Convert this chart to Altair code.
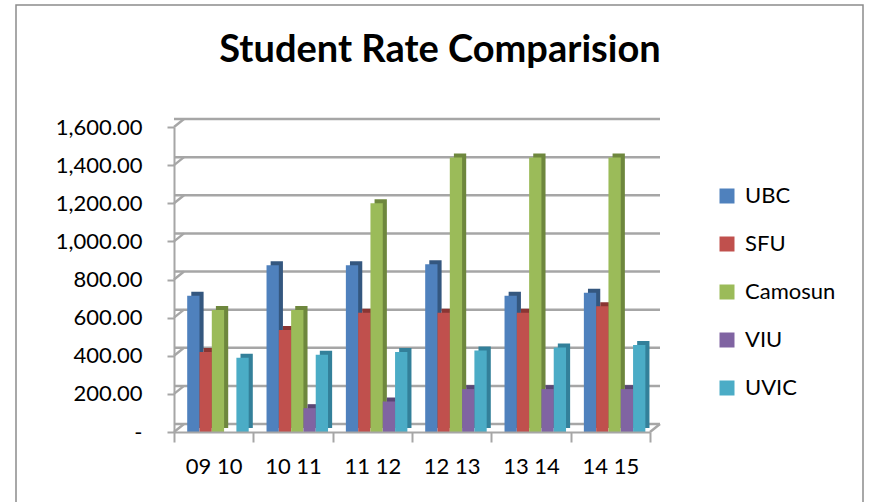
import altair as alt
import pandas as pd

years = ["09 10", "10 11", "11 12", "12 13", "13 14", "14 15"]
schools = ["UBC", "SFU", "Camosun", "VIU", "UVIC"]
ubc = [715, 875, 875, 880, 715, 730]
sfu = [420, 535, 625, 625, 625, 660]
camosun = [640, 640, 1200, 1440, 1440, 1440]
viu = [0, 125, 160, 225, 225, 225]
uvic = [390, 405, 420, 428, 443, 457]
y_ticks = [0, 200, 400, 600, 800, 1000, 1200, 1400, 1600]

colors = ["#4F81BD", "#C0504D", "#9BBB59", "#8064A2", "#4BACC6"]
dark = ["#34577F", "#8A3533", "#6E873D", "#5A4675", "#33809A"]

rows = []
for s, c, vals in zip(schools, dark, [ubc, sfu, camosun, viu, uvic]):
    for yr, v in zip(years, vals):
        rows.append({"year": yr, "school": s, "value": v, "dark": c})
df = pd.DataFrame(rows)
grid_df = pd.DataFrame({"value": y_ticks})
floor_df = pd.DataFrame({"value": [0]})

W, H = 476, 305
DX, DY = 10, -8
GRID = "#a6a6a6"

x_axis = alt.Axis(title=None, tickBand="extent", tickSize=10, tickColor=GRID, tickWidth=2,
                  domainColor=GRID, domainWidth=2, labelFont="Lato", labelFontSize=22,
                  labelColor="black", labelAngle=0, labelPadding=14, zindex=1)
x_enc = alt.X("year:N", sort=years, scale=alt.Scale(paddingInner=0, paddingOuter=0), axis=x_axis)
xoff_main = alt.XOffset("school:N", sort=schools,
                        scale=alt.Scale(paddingInner=0, paddingOuter=0.725, align=0.74))
xoff_side = alt.XOffset("school:N", sort=schools,
                        scale=alt.Scale(paddingInner=0, paddingOuter=0.725, align=0.97))
y_axis = alt.Axis(title=None, values=y_ticks, grid=False,
                  labelExpr="datum.value == 0 ? '-\u00a0\u00a0\u00a0' : format(datum.value, ',.2f')",
                  tickSize=7, tickColor=GRID, tickWidth=2, domainColor=GRID, domainWidth=2,
                  labelFont="Lato", labelFontSize=22, labelColor="black", labelPadding=25, zindex=1)
y_enc = alt.Y("value:Q", scale=alt.Scale(domain=[0, 1600], nice=False), axis=y_axis)

border = alt.Chart(floor_df).mark_rect(filled=False, stroke="#8c8c8c", strokeWidth=1.5).encode(
    x=alt.value(16 - 174), x2=alt.value(863 - 174), y=alt.value(5 - 127), y2=alt.value(520 - 127)
)

grid = alt.Chart(grid_df).mark_rule(color=GRID, strokeWidth=2.5, xOffset=DX, x2Offset=DX,
                                    yOffset=DY, y2Offset=DY).encode(y=y_enc)
left_wall = alt.Chart(grid_df).mark_rule(color=GRID, strokeWidth=2.5, y2Offset=DY).encode(
    x=alt.value(0), x2=alt.value(DX), y=y_enc, y2="value:Q"
)
right_floor = alt.Chart(floor_df).mark_rule(color=GRID, strokeWidth=2.5, y2Offset=DY).encode(
    x=alt.value(W), x2=alt.value(W + DX), y=y_enc, y2="value:Q"
)

shadow = alt.Chart(df).mark_bar(yOffset=-4, y2Offset=-4).encode(
    x=x_enc, xOffset=xoff_side, y=y_enc,
    color=alt.Color("dark:N", scale=None),
)
bars = alt.Chart(df).mark_bar().encode(
    x=x_enc, xOffset=xoff_main, y=y_enc,
    color=alt.Color("school:N", sort=schools,
                    scale=alt.Scale(domain=schools, range=colors),
                    legend=alt.Legend(title=None, orient="none", legendX=542, legendY=58,
                                      symbolType="square", symbolSize=225, symbolStrokeWidth=0,
                                      labelFont="Lato", labelFontSize=22, labelColor="black",
                                      rowPadding=26, labelOffset=7, padding=0)),
)

chart = alt.layer(border, grid, left_wall, right_floor, shadow, bars).resolve_scale(
    xOffset="independent"
).properties(
    width=W, height=H,
    padding={"left": 174, "top": 127, "right": 869 - 174 - W, "bottom": 502 - 127 - H},
    autosize="none",
    background="white",
    title=alt.Title("Student Rate Comparision", font="Lato", fontSize=38, fontWeight="bold",
                    color="black", anchor="middle", offset=-96, dx=28, baseline="alphabetic"),
).configure_view(stroke="transparent")

chart.save("out.html", embed_options={"renderer": "svg", "actions": False})
